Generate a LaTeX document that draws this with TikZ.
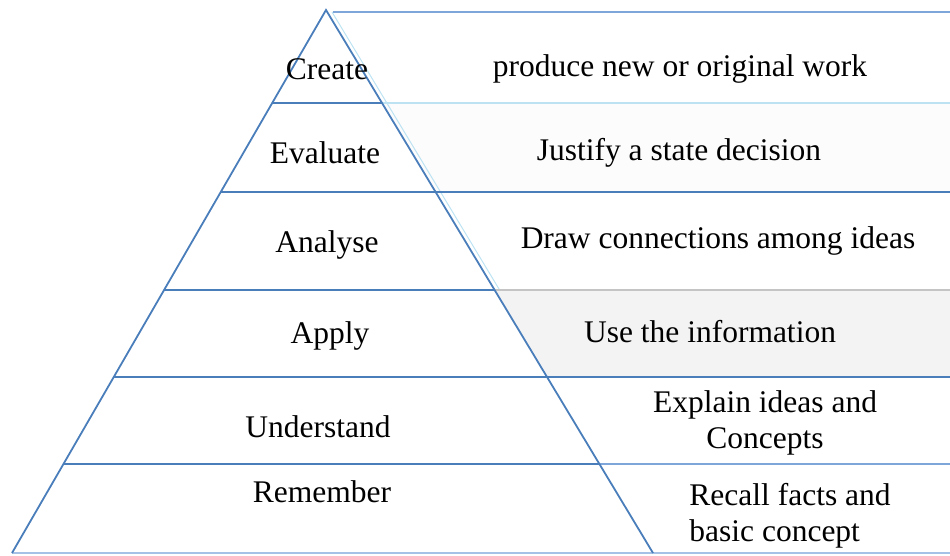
\documentclass[tikz,border=0pt]{standalone}
\usepackage{fontspec}
\setmainfont{Liberation Serif}
\usetikzlibrary{calc}
\definecolor{pyrblue}{HTML}{4A7EBB}
\definecolor{boxblue}{HTML}{7FA6DA}
\definecolor{boxcyan}{HTML}{BDE3F3}
\definecolor{boxgray}{HTML}{C4C4C4}
\definecolor{applyfill}{HTML}{F3F3F3}
\tikzset{
    x=1pt, y=-1pt,
    pyrline/.style={draw=pyrblue, line width=1.8pt},
    boxline/.style={line width=1.8pt},
    level/.style={font=\fontsize{31.5}{36}\selectfont, inner sep=0pt},
    task/.style={level, align=center},
}

\begin{document}
\begin{tikzpicture}
\useasboundingbox (0,0) rectangle (950,555);

\coordinate (apex) at (326,10);
\coordinate (bl) at (12,553);
\coordinate (br) at (653,553);

% row borders on the two slopes
\foreach \name/\y in {r1/103, r2/192, r3/290, r4/377, r5/464} {
    \coordinate (\name l) at ($(apex)!{(\y-10)/543}!(bl)$);
    \coordinate (\name r) at ($(apex)!{(\y-10)/543}!(br)$);
    \coordinate (\name e) at (950,\y);
}

% boxes on the right
\fill[applyfill] (r3r) -- (r3e) -- (r4e) -- (r4r) -- cycle;
\fill[black!1] (r1r) -- (r1e) -- (r2e) -- (r2r) -- cycle;
\draw[draw=boxcyan, line width=1pt] ($(apex)+(6,2)$) -- ($(r3r)+(5,0)$);
\draw[boxline, draw=boxblue] (333,12) -- (950,12);
\draw[boxline, draw=boxcyan] (r1r) -- (r1e);
\draw[boxline, draw=pyrblue] (r2r) -- (r2e);
\draw[boxline, draw=boxgray] (r3r) -- (r3e);
\draw[boxline, draw=pyrblue] (r4r) -- (r4e);
\draw[boxline, draw=boxblue] (r5r) -- (r5e);
\draw[boxline, draw=boxblue!70] (bl) -- (950,553);

% pyramid
\draw[pyrline] (bl) -- (apex) -- (br);
\foreach \name in {r1, r2, r3, r4, r5}
    \draw[pyrline] (\name l) -- (\name r);

% levels
\node[level] (create) at (327,69) {Create};
\node[level] (evaluate) at (325,153) {Evaluate};
\node[level] (analyse) at (327,245) {Analyse};
\node[level] (apply) at (330,336) {Apply};
\node[level] (understand) at (318,427) {Understand};
\node[level] (remember) at (322,492) {Remember};

% tasks
\node[task] (produce) at (680,69) {produce new or original work};
\node[task] (justify) at (679,153) {Justify a state decision};
\node[task] (connect) at (718,241) {Draw connections among ideas};
\node[task] (use) at (710,332) {Use the information};
\node[task] (explain) at (765,423) {Explain ideas and\\Concepts};
\node[task, align=left] (recall) at (790,516) {Recall facts and\\basic concept};

\end{tikzpicture}
\end{document}
